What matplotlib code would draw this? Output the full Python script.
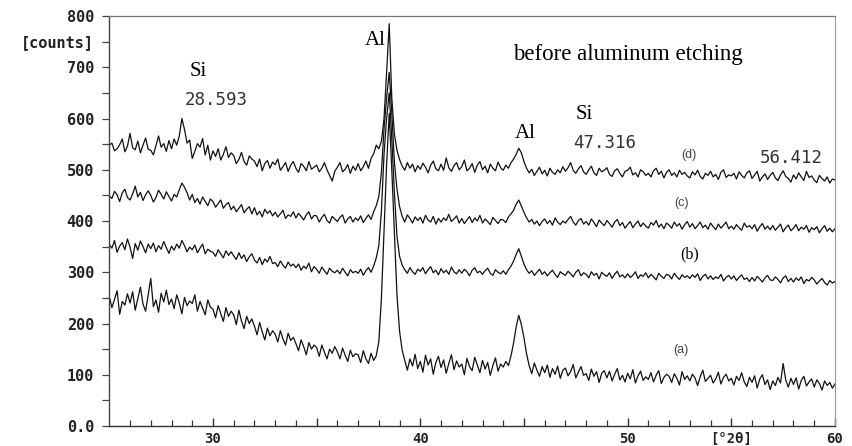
"""XRD patterns (a)-(d) before aluminum etching."""

import matplotlib
matplotlib.use("Agg")
import matplotlib.pyplot as plt
import numpy as np

# ---------------------------------------------------------------------------
# Data: scan 25-60 deg 2theta, 0.125 deg step (one row per degree)
# ---------------------------------------------------------------------------

two_theta = np.arange(25.0, 60.001, 0.125)

counts_d = [
    548, 552, 537, 541, 549, 560, 535, 546,
    571, 543, 539, 556, 533, 548, 562, 540,
    538, 529, 547, 566, 544, 551, 536, 557,
    541, 560, 548, 566, 600, 579, 552, 558,
    522, 536, 551, 544, 561, 529, 548, 519,
    537, 526, 541, 519, 530, 545, 524, 533,
    528, 512, 520, 534, 516, 509, 527, 521,
    517, 506, 521, 498, 512, 518, 503, 515,
    510, 521, 499, 506, 514, 497, 509, 516,
    503, 495, 512, 507, 498, 516, 501, 505,
    509, 496, 503, 514, 500, 489, 478, 497,
    505, 514, 496, 501, 510, 493, 507, 499,
    512, 498, 506, 517, 503, 522, 531, 548,
    541, 556, 600, 690, 785, 640, 570, 538,
    520, 507, 499, 514, 503, 511, 496, 508,
    501, 513, 505, 494, 509, 517, 502, 498,
    511, 499, 523, 504, 497, 508, 514, 500,
    506, 519, 498, 503, 512, 495, 509, 516,
    500, 507, 494, 511, 503, 498, 515, 504,
    499, 509, 503, 514, 521, 530, 542, 533,
    516, 503, 494, 501, 489, 497, 505, 492,
    499, 488, 503, 495, 491, 500, 494, 506,
    497, 504, 514, 499, 493, 502, 508, 496,
    491, 500, 507, 494, 489, 503, 496, 499,
    504, 491, 487, 498, 502, 493, 486, 497,
    499, 505, 490, 494, 486, 500, 496, 489,
    493, 486, 498, 503, 491, 497, 484, 495,
    500, 489, 494, 486, 499, 491, 495, 488,
    484, 496, 490, 499, 487, 482, 493, 489,
    497, 486, 491, 481, 495, 500, 485, 490,
    488, 493, 482, 496, 489, 484, 494, 498,
    483, 490, 497, 478, 486, 492, 481, 489,
    495, 484, 479, 490, 498, 487, 483, 476,
    490, 482, 494, 486, 479, 497, 485, 488,
    480, 475, 489, 483, 478, 486, 474, 482,
    480,
]

counts_c = [
    449, 444, 458, 451, 438, 455, 462, 446,
    441, 453, 468, 447, 456, 440, 451, 459,
    450, 437, 446, 460, 452, 443, 457, 448,
    439, 452, 447, 461, 474, 466, 455, 441,
    452, 436, 444, 433, 447, 438, 430, 443,
    438, 427, 434, 441, 425, 432, 436, 422,
    429, 418, 425, 432, 416, 423, 428, 414,
    426, 412, 419, 408, 423, 415, 420, 410,
    417, 408, 414, 421, 405, 412, 409, 418,
    406, 415, 409, 402, 412, 418, 404, 411,
    410, 398, 407, 413, 401, 396, 409, 404,
    399, 407, 412, 396, 404, 409, 398, 406,
    401, 410, 397, 405, 412, 403, 418, 430,
    448, 495, 580, 640, 690, 610, 515, 462,
    428, 409, 398, 412, 405, 396, 408, 401,
    407, 396, 411, 402, 398, 409, 394, 405,
    398, 406, 401, 413, 399, 404, 410, 396,
    405, 395, 402, 409, 397, 406, 400, 411,
    396, 404, 399, 393, 407, 401, 395, 403,
    402, 397, 408, 414, 421, 433, 441, 429,
    417, 406, 398, 403, 394, 400, 391, 399,
    404, 395, 401, 392, 406, 398, 393, 400,
    396, 403, 409, 398, 392, 401, 405, 394,
    399, 392, 404, 397, 389, 402, 396, 391,
    401, 395, 388, 398, 403, 391, 397, 386,
    393, 399, 387, 394, 400, 389, 396, 390,
    386, 397, 392, 401, 388, 394, 385, 396,
    392, 386, 398, 390, 395, 384, 393, 399,
    388, 395, 385, 391, 398, 387, 392, 384,
    396, 389, 383, 394, 386, 392, 398, 385,
    390, 384, 393, 387, 382, 396, 388, 391,
    385, 393, 380, 389, 395, 384, 390, 383,
    391, 382, 388, 394, 379, 387, 392, 381,
    386, 393, 381, 388, 384, 391, 378, 387,
    383, 389, 377, 385, 391, 380, 386, 379,
    385,
]

counts_b = [
    354, 347, 362, 339, 351, 358, 344, 365,
    349, 327, 356, 343, 361, 350, 338, 355,
    346, 357, 340, 352, 345, 360, 348, 337,
    351, 343, 355, 347, 362, 352, 340, 349,
    344, 353, 338, 347, 355, 336, 345, 341,
    339, 331, 344, 336, 328, 342, 333, 340,
    332, 325, 338, 327, 334, 321, 330, 336,
    324, 318, 329, 315, 326, 320, 331, 317,
    319, 311, 322, 314, 308, 320, 312, 316,
    309, 316, 304, 312, 307, 318, 301, 311,
    306, 298, 310, 303, 296, 308, 302, 299,
    304, 297, 308, 300, 293, 305, 299, 302,
    298, 306, 294, 303, 309, 300, 312, 328,
    352, 420, 530, 600, 650, 560, 455, 370,
    331, 314, 305, 298, 309, 301, 296, 306,
    302, 309, 297, 305, 311, 299, 304, 295,
    307, 299, 304, 296, 310, 301, 297, 305,
    298, 306, 301, 293, 304, 309, 299, 302,
    296, 303, 308, 298, 294, 305, 300, 297,
    303, 296, 305, 312, 322, 335, 346, 331,
    316, 305, 298, 303, 294, 300, 306, 296,
    301, 293, 299, 304, 296, 290, 301, 297,
    294, 302, 297, 291, 300, 305, 293, 299,
    296, 289, 301, 294, 298, 287, 300, 295,
    292, 299, 288, 296, 302, 291, 295, 289,
    297, 290, 294, 301, 288, 295, 292, 299,
    289, 296, 291, 285, 298, 292, 288, 296,
    294, 287, 298, 291, 286, 295, 290, 293,
    288, 295, 290, 297, 284, 292, 296, 287,
    293, 286, 291, 288, 296, 283, 290, 294,
    287, 293, 284, 290, 295, 286, 289, 282,
    290, 283, 292, 287, 281, 289, 294, 285,
    284, 291, 286, 279, 289, 293, 282, 288,
    281, 289, 284, 291, 278, 286, 283, 290,
    285, 277, 283, 288, 280, 275, 284, 279,
    282,
]

counts_a = [
    252, 231, 247, 264, 218, 243, 236, 258,
    240, 262, 226, 249, 271, 238, 224, 256,
    288, 233, 246, 222, 259, 242, 265, 237,
    248, 229, 256, 240, 219, 251, 235, 244,
    239, 256, 224, 243, 230, 217, 246, 232,
    228, 211, 235, 219, 204, 231, 214, 224,
    217, 198, 226, 205, 190, 214, 200, 209,
    195, 178, 202, 184, 168, 191, 176, 186,
    179, 164, 186, 170, 158, 181, 167, 173,
    161, 147, 168, 155, 139, 163, 150, 158,
    153, 136, 158, 144, 131, 150, 142, 155,
    145, 131, 152, 138, 126, 148, 135, 141,
    139, 124, 147, 131, 122, 142, 128, 137,
    165, 250, 380, 510, 610, 500, 380, 255,
    185, 148, 128, 109, 131, 117, 140, 112,
    126, 105, 138, 119, 131, 101, 124, 136,
    114, 129, 103, 122, 139, 110, 127, 115,
    121, 100, 132, 116, 108, 134, 119, 104,
    128, 111, 124, 99, 118, 133, 107, 121,
    115, 126, 118, 137, 162, 194, 216, 198,
    172, 141, 118, 102, 123, 109, 97, 116,
    104, 119, 95, 112, 101, 117, 93, 109,
    113, 98, 106, 120, 94, 105, 116, 99,
    102, 89, 111, 97, 106, 85, 103, 108,
    94, 107, 88, 101, 112, 90, 99, 86,
    103, 92, 110, 84, 98, 107, 89, 96,
    91, 104, 86, 99, 108, 83, 95, 101,
    97, 85, 102, 93, 80, 106, 91, 98,
    88, 101, 94, 79, 96, 109, 87, 93,
    99, 84, 92, 105, 82, 95, 101, 88,
    93, 80, 97, 89, 104, 86, 77, 95,
    85, 98, 74, 92, 100, 81, 90, 71,
    88, 79, 95, 84, 122, 90, 76, 93,
    81, 94, 72, 89, 97, 78, 86, 92,
    76, 90, 83, 70, 88, 79, 85, 74,
    82,
]

y_ticks = [0, 100, 200, 300, 400, 500, 600, 700, 750, 800]
y_tick_labels = ["0.0", "100", "200", "300", "400", "500", "600", "700", "[counts]", "800"]
x_ticks = [30, 35, 40, 45, 50, 55, 60]
x_tick_labels = ["30", "", "40", "", "50", "[°2θ]", "60"]

MONO = "DejaVu Sans Mono"
SERIF = "Liberation Serif"
SANS = "Liberation Sans"

# ---------------------------------------------------------------------------
# Figure
# ---------------------------------------------------------------------------

fig = plt.figure(figsize=(8.52, 4.46), dpi=100)
ax = fig.add_axes([0.1283, 0.0448, 0.8517, 0.9193])

for counts in (counts_a, counts_b, counts_c, counts_d):
    ax.plot(two_theta, counts, color="#111111", linewidth=0.9)

ax.set_xlim(25, 60)
ax.set_ylim(0, 800)

# — axes frame -------------------------------------------------------------
ax.spines["left"].set_color("#444444")
ax.spines["bottom"].set_color("#333333")
ax.spines["top"].set_color("#777777")
ax.spines["right"].set_color("#999999")
for side in ("left", "bottom"):
    ax.spines[side].set_linewidth(1.0)
ax.spines["top"].set_linewidth(0.9)
ax.spines["right"].set_linewidth(0.8)

# — ticks ---------------------------------------------------------------------
ax.set_xticks(x_ticks)
ax.set_xticklabels(x_tick_labels)
ax.set_xticks(np.arange(26, 60, 1), minor=True)
ax.tick_params(axis="x", which="major", direction="in", length=6, width=1.0,
               color="#333333", pad=4, labelsize=10, labelcolor="#222222")
ax.tick_params(axis="x", which="minor", direction="in", length=4, width=0.9,
               color="#333333")

ax.set_yticks(y_ticks)
ax.set_yticklabels(y_tick_labels)
ax.set_yticks(np.arange(50, 700, 100), minor=True)
ax.tick_params(axis="y", which="both", direction="out", length=5, width=0.9,
               color="#444444", pad=6, labelsize=11, labelcolor="#222222")

for lbl in ax.get_xticklabels() + ax.get_yticklabels():
    lbl.set_fontfamily(MONO)
    lbl.set_fontweight("bold")

# — peak labels -----------------------------------------------------------
ax.text(29.28, 691, "Si", family=SERIF, fontsize=15, ha="center", va="center")
ax.text(37.82, 753, "Al", family=SERIF, fontsize=15, ha="center", va="center")
ax.text(45.07, 570, "Al", family=SERIF, fontsize=15, ha="center", va="center")
ax.text(47.89, 607, "Si", family=SERIF, fontsize=15, ha="center", va="center")
ax.text(44.48, 724, "before aluminum etching", family=SERIF, fontsize=16.5,
        ha="left", va="center")

ax.text(28.65, 636, "28.593", family=MONO, fontsize=12.5, color="#333333",
        ha="left", va="center")
ax.text(47.37, 552, "47.316", family=MONO, fontsize=12.5, color="#333333",
        ha="left", va="center")
ax.text(56.38, 523, "56.412", family=MONO, fontsize=12.5, color="#333333",
        ha="left", va="center")

# — trace labels --------------------------------------------------------------
ax.text(52.97, 529, "(d)", family=SANS, fontsize=9, color="#444444",
        ha="center", va="center")
ax.text(52.58, 435, "(c)", family=SANS, fontsize=9, color="#444444",
        ha="center", va="center")
ax.text(52.97, 334, "(b)", family=SERIF, fontsize=11.5, ha="center", va="center")
ax.text(52.58, 148, "(a)", family=SANS, fontsize=9, color="#444444",
        ha="center", va="center")

fig.savefig("out.png", dpi=100)
plt.close(fig)
